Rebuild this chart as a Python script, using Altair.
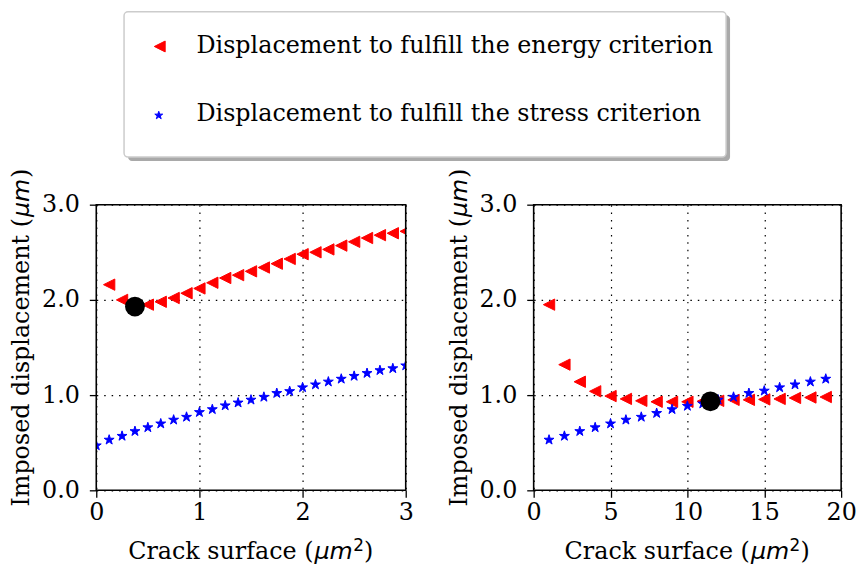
import altair as alt
import pandas as pd

SERIF = "DejaVu Serif"
SANS = "DejaVu Sans"

# ---------------- data ----------------
left_energy_x = [0.125, 0.25, 0.375, 0.5, 0.625, 0.75, 0.875, 1.0, 1.125, 1.25, 1.375, 1.5,
                 1.625, 1.75, 1.875, 2.0, 2.125, 2.25, 2.375, 2.5, 2.625, 2.75, 2.875, 3.0]
left_energy_y = [2.16, 2.00, 1.94, 1.95, 1.98, 2.02, 2.07, 2.12, 2.18, 2.23, 2.26, 2.30,
                 2.34, 2.38, 2.43, 2.48, 2.50, 2.53, 2.57, 2.61, 2.65, 2.68, 2.70, 2.72]
left_stress_x = [0.0, 0.125, 0.25, 0.375, 0.5, 0.625, 0.75, 0.875, 1.0, 1.125, 1.25, 1.375, 1.5,
                 1.625, 1.75, 1.875, 2.0, 2.125, 2.25, 2.375, 2.5, 2.625, 2.75, 2.875, 3.0]
left_stress_y = [0.47, 0.53, 0.57, 0.62, 0.66, 0.70, 0.74, 0.77, 0.82, 0.85, 0.89, 0.92, 0.95,
                 0.98, 1.02, 1.04, 1.08, 1.11, 1.14, 1.17, 1.20, 1.23, 1.26, 1.28, 1.31]
left_crit_x = [0.375]
left_crit_y = [1.93]

right_x = [1, 2, 3, 4, 5, 6, 7, 8, 9, 10, 11, 12, 13, 14, 15, 16, 17, 18, 19]
right_energy_y = [1.95, 1.32, 1.14, 1.04, 0.99, 0.96, 0.94, 0.93, 0.93, 0.93,
                  0.935, 0.94, 0.95, 0.95, 0.955, 0.96, 0.97, 0.975, 0.98]
right_stress_y = [0.53, 0.57, 0.62, 0.66, 0.70, 0.74, 0.77, 0.81, 0.85, 0.885,
                  0.91, 0.95, 0.98, 1.02, 1.045, 1.08, 1.11, 1.14, 1.17]
right_crit_x = [11.5]
right_crit_y = [0.935]

left_xticks = [0, 1, 2, 3]
right_xticks = [0, 5, 10, 15, 20]
yticks = [0, 1, 2, 3]

legend_labels = ["Displacement to fulfill the energy criterion",
                 "Displacement to fulfill the stress criterion"]

# axis titles, split into plain / italic-math / superscript parts
x_title_parts = ["Crack surface (", "μm", "2", ")"]
y_title_parts = ["Imposed displacement (", "μm", ")"]

# marker shapes (unit paths, like matplotlib '<' and '*')
TRI_LEFT = "M-1,0L1,-1L1,1Z"
STAR = ("M0,-1L0.2245,-0.309L0.9511,-0.309L0.3633,0.118L0.5878,0.809L0,0.382"
        "L-0.5878,0.809L-0.3633,0.118L-0.9511,-0.309L-0.2245,-0.309Z")

one = pd.DataFrame({"k": [0]})


def txt(label, **kw):
    return alt.Chart(pd.DataFrame({"t": [label]})).mark_text(color="black", **kw)


def titles(w, h):
    a = w / 2 + 63
    base = h + 69
    xt = [
        txt(x_title_parts[0], align="right", baseline="alphabetic", font=SERIF,
            fontSize=24).encode(x=alt.value(a), y=alt.value(base), text="t:N"),
        txt(x_title_parts[1], align="left", baseline="alphabetic", font=SANS,
            fontStyle="italic", fontSize=24).encode(x=alt.value(a + 1), y=alt.value(base), text="t:N"),
        txt(x_title_parts[2], align="left", baseline="alphabetic", font=SANS,
            fontSize=17).encode(x=alt.value(a + 40), y=alt.value(base - 8), text="t:N"),
        txt(x_title_parts[3], align="left", baseline="alphabetic", font=SERIF,
            fontSize=24).encode(x=alt.value(a + 51), y=alt.value(base), text="t:N"),
    ]
    bx = -67.5
    b = 13.5
    yt = [
        txt(y_title_parts[0], align="right", baseline="alphabetic", font=SERIF,
            fontSize=24, angle=270).encode(x=alt.value(bx), y=alt.value(b), text="t:N"),
        txt(y_title_parts[1], align="left", baseline="alphabetic", font=SANS,
            fontStyle="italic", fontSize=24, angle=270).encode(x=alt.value(bx), y=alt.value(b - 1), text="t:N"),
        txt(y_title_parts[2], align="left", baseline="alphabetic", font=SERIF,
            fontSize=24, angle=270).encode(x=alt.value(bx), y=alt.value(b - 40.5), text="t:N"),
    ]
    return xt + yt


def panel(ex, ey, sx, sy, cx, cy, xmax, xticks, w, h=288):
    xs = alt.Scale(domain=[0, xmax], nice=False, zero=False)
    ys = alt.Scale(domain=[0, 3], nice=False, zero=False)
    xax = alt.Axis(values=xticks, title=None, grid=True, gridDash=[1.5, 6],
                   gridColor="black", gridWidth=1.2, gridOpacity=1, domain=False,
                   tickSize=7, tickColor="black", tickWidth=1.3, labelPadding=3,
                   labelFlush=False)
    yax = alt.Axis(values=yticks, format=".1f", title=None, grid=True,
                   gridDash=[1.5, 6], gridColor="black", gridWidth=1.2, gridOpacity=1,
                   domain=False, tickSize=7, tickColor="black", tickWidth=1.3,
                   labelPadding=10, labelFlush=False)
    d_e = pd.DataFrame({"cs": ex, "disp": ey})
    d_s = pd.DataFrame({"cs": sx, "disp": sy})
    d_c = pd.DataFrame({"cs": cx, "disp": cy})
    enc = dict(x=alt.X("cs:Q", scale=xs, axis=xax), y=alt.Y("disp:Q", scale=ys, axis=yax))
    e = alt.Chart(d_e).mark_point(shape=TRI_LEFT, filled=True, size=130, fill="red",
                                  stroke="red", strokeWidth=1, opacity=1,
                                  clip=True).encode(**enc)
    s = alt.Chart(d_s).mark_point(shape=STAR, filled=True, size=110, fill="blue",
                                  stroke="blue", strokeWidth=1, opacity=1,
                                  clip=True).encode(**enc)
    c = alt.Chart(d_c).mark_circle(size=400, color="black", opacity=1).encode(**enc)
    frame = alt.Chart(one).mark_rect(fill=None, stroke="black", strokeWidth=1.6).encode(
        x=alt.value(0), x2=alt.value(w), y=alt.value(0), y2=alt.value(h))
    return alt.layer(e, s, c, frame, *titles(w, h)).properties(width=w, height=h)


left = panel(left_energy_x, left_energy_y, left_stress_x, left_stress_y,
             left_crit_x, left_crit_y, 3, left_xticks, 312)
right = panel(right_x, right_energy_y, right_x, right_stress_y,
              right_crit_x, right_crit_y, 20, right_xticks, 310)

# ---------------- legend box ----------------
shadow = alt.Chart(one).mark_rect(color="#a9a9a9", cornerRadius=4).encode(
    x=alt.value(32), x2=alt.value(639), y=alt.value(4), y2=alt.value(151))
box = alt.Chart(one).mark_rect(fill="white", stroke="#cccccc", strokeWidth=1.5,
                               cornerRadius=4).encode(
    x=alt.value(28), x2=alt.value(635), y=alt.value(0.5), y2=alt.value(147))
leg_e = pd.DataFrame({"label": [legend_labels[0]]})
leg_s = pd.DataFrame({"label": [legend_labels[1]]})
sym_e = alt.Chart(leg_e).mark_point(
    shape=TRI_LEFT, filled=True, size=120, fill="red", stroke="red", strokeWidth=1,
    opacity=1).encode(x=alt.value(64), y=alt.value(35.5))
sym_s = alt.Chart(leg_s).mark_point(
    shape=STAR, filled=True, size=70, fill="blue", stroke="blue", strokeWidth=1,
    opacity=1).encode(x=alt.value(63), y=alt.value(105))
txt_e = alt.Chart(leg_e).mark_text(
    align="left", baseline="alphabetic", font=SERIF, fontSize=24, color="black").encode(
    x=alt.value(101), y=alt.value(42), text="label:N")
txt_s = alt.Chart(leg_s).mark_text(
    align="left", baseline="alphabetic", font=SERIF, fontSize=24, color="black").encode(
    x=alt.value(101), y=alt.value(111), text="label:N")
legend = alt.layer(shadow, box, sym_e, sym_s, txt_e, txt_s).properties(
    width=640, height=150)

chart = alt.vconcat(
    legend,
    alt.hconcat(left, right, spacing=129, bounds="flush"),
    spacing=45, bounds="flush",
).properties(
    padding={"left": 2, "top": 0, "right": 0, "bottom": 0}
).configure_view(stroke=None).configure_axis(
    labelFont=SERIF, labelFontSize=24, labelColor="black"
)

chart.save("out.html", embed_options={"renderer": "svg", "actions": False})
